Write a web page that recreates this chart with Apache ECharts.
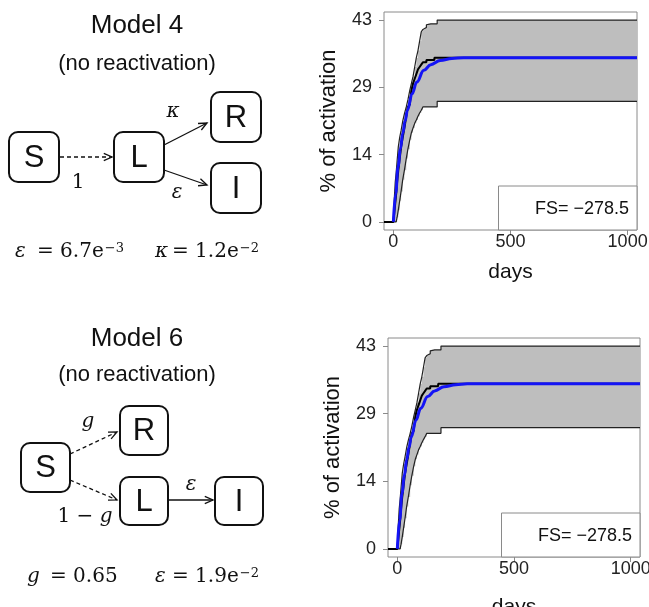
<!DOCTYPE html>
<html>
<head>
<meta charset="utf-8">
<script src="https://cdn.jsdelivr.net/npm/echarts@6/dist/echarts.min.js"></script>
<style>
  html, body { margin: 0; padding: 0; background: #fff; }
  #chart { width: 649px; height: 607px; }
</style>
</head>
<body>
<div id="chart"></div>
<script>
// step curves (value holds from days[i] until days[i+1])
const days = [-40, 0, 4, 8, 12, 16, 21, 27, 33, 40, 47, 55, 62, 70, 77, 84, 91, 98, 105, 112, 119, 126, 134, 141, 148, 160, 175, 187, 1040]
const upper = [0, 0, 5, 8.5, 10.5, 13, 16, 18, 19.5, 21.5, 23, 24.5, 26, 28, 29.5, 31, 33, 35, 36.5, 38.5, 40.5, 41, 41.4, 42, 42.2, 42.2, 42.2, 43, 43]
const lower = [0, 0, 0, 0, 0, 1, 2.5, 4.5, 6.5, 9, 11, 13.5, 15.5, 17.5, 19, 20, 21, 21.7, 22.5, 23.2, 23.8, 24.5, 24.5, 24.5, 24.5, 24.5, 24.5, 25.7, 25.7]
const observed = [0, 0, 2, 4, 6, 8.5, 11, 13.5, 16, 18, 20, 22.5, 24.5, 25, 28, 29.5, 30.5, 31.5, 32.5, 33, 33.5, 34, 34, 34.5, 34.5, 34.5, 35, 35, 35]

// fitted model curve (blue)
const modelDays = [0, 10, 20, 30, 40, 50, 60, 80, 100, 130, 160, 200, 250, 300, 400, 1040]
const modelVals = [0, 6.1, 11.8, 15.5, 18.9, 21.5, 23.8, 27.3, 29.8, 32.3, 33.5, 34.4, 34.8, 35, 35, 35]

// ticks
const xTicks = [0, 500, 1000]
const yTicks = [0, 14.33, 28.67, 43]
const fsText = 'FS= \u2212278.5'

const chart = echarts.init(document.getElementById('chart'))

const grids = [
  {left: 384, top: 12, width: 253, height: 218},
  {left: 388, top: 338, width: 252, height: 219}
]
const xNameGap = [32, 40]
const yNameGap = [44, 44]

const pair = (xs, ys) => xs.map((x, k) => [x, ys[k]])

// grey band between lower and upper step curves
function bandItem(params, api) {
  const n = days.length
  const pts = []
  for (let k = 0; k < n; k++) {
    pts.push(api.coord([days[k], upper[k]]))
    if (k < n - 1) pts.push(api.coord([days[k + 1], upper[k]]))
  }
  pts.push(api.coord([days[n - 1], lower[n - 1]]))
  for (let k = n - 2; k >= 0; k--) {
    pts.push(api.coord([days[k + 1], lower[k]]))
    pts.push(api.coord([days[k], lower[k]]))
  }
  return {type: 'polygon', shape: {points: pts}, style: {fill: '#bebebe'}}
}

function seriesFor(i) {
  const base = {type: 'line', xAxisIndex: i, yAxisIndex: i, symbol: 'none', silent: true, animation: false}
  return [
    {type: 'custom', xAxisIndex: i, yAxisIndex: i, silent: true, data: [[0, 0]], renderItem: bandItem},
    {...base, data: pair(days, upper), step: 'end', lineStyle: {color: '#222', width: 1.2}},
    {...base, data: pair(days, lower), step: 'end', lineStyle: {color: '#222', width: 1.2}},
    {...base, data: pair(days, observed), step: 'end', lineStyle: {color: '#000', width: 2}},
    {...base, data: pair(modelDays, modelVals), smooth: 0.4, smoothMonotone: 'x',
      lineStyle: {color: '#1414f5', width: 3}}
  ]
}

// diagram helpers
const sans = 'Liberation Sans'
const serif = 'DejaVu Serif'

function txt(x, y, text, size, opts) {
  opts = opts || {}
  return {
    type: 'text', x: x, y: y, silent: true,
    style: Object.assign({
      text: text, fontSize: size, fontFamily: opts.family || sans, fill: '#111',
      fontStyle: opts.italic ? 'italic' : 'normal',
      align: opts.align || 'center', verticalAlign: 'middle',
      textAlign: opts.align || 'center', textVerticalAlign: 'middle'
    }, opts.style || {})
  }
}

// "= 6.7e" with a raised "-3"
function sci(x, y, base, sup) {
  return txt(x, y, '{n|' + base + '}{s|' + sup + '}', 20, {family: serif, align: 'left', style: {rich: {
    n: {fontSize: 20, fontFamily: serif, fill: '#111'},
    s: {fontSize: 13, fontFamily: serif, fill: '#111', verticalAlign: 'top', padding: [0, 0, 0, 1]}}}})
}

function box(x, y, w, h, label) {
  return [
    {type: 'rect', silent: true, shape: {x: x, y: y, width: w, height: h, r: 9},
      style: {fill: '#fff', stroke: '#111', lineWidth: 2}},
    txt(x + w / 2, y + h / 2 + 1, label, 31)
  ]
}

function arrow(x1, y1, x2, y2, dashed) {
  const a = Math.atan2(y2 - y1, x2 - x1), h = 9, w = 0.42
  return [
    {type: 'line', silent: true, shape: {x1: x1, y1: y1, x2: x2, y2: y2},
      style: {stroke: '#111', lineWidth: 1.3, lineDash: dashed ? [4, 3] : null}},
    {type: 'polyline', silent: true,
      shape: {points: [[x2 - h * Math.cos(a - w), y2 - h * Math.sin(a - w)], [x2, y2],
                       [x2 - h * Math.cos(a + w), y2 - h * Math.sin(a + w)]]},
      style: {stroke: '#111', lineWidth: 1.3, fill: 'none'}}
  ]
}

const it = {family: serif, italic: true, align: 'left'}
const up = {family: serif, align: 'left'}

const diagram = [
  // Model 4
  txt(137, 26, 'Model 4', 26),
  txt(137, 64, '(no reactivation)', 22),
  ...box(9, 132, 50, 50, 'S'),
  ...box(114, 132, 50, 50, 'L'),
  ...box(211, 92, 50, 50, 'R'),
  ...box(211, 163, 50, 50, 'I'),
  ...arrow(60, 157, 112, 157, true),
  ...arrow(164, 145, 207, 123, false),
  ...arrow(164, 170, 207, 185, false),
  txt(78, 183, '1', 20, {family: serif}),
  txt(173, 112, '\u03ba', 20, {family: serif, italic: true}),
  txt(177, 193, '\u03b5', 20, {family: serif, italic: true}),
  txt(15, 252, '\u03b5', 20, it),
  sci(37, 252, '= 6.7e', '\u22123'),
  txt(155, 252, '\u03ba', 20, it),
  sci(172, 252, '= 1.2e', '\u22122'),

  // Model 6
  txt(137, 339, 'Model 6', 26),
  txt(137, 375, '(no reactivation)', 22),
  ...box(21, 443, 49, 49, 'S'),
  ...box(120, 406, 48, 49, 'R'),
  ...box(120, 477, 48, 48, 'L'),
  ...box(215, 477, 48, 48, 'I'),
  ...arrow(70, 454, 117, 432, true),
  ...arrow(70, 480, 117, 500, true),
  ...arrow(169, 500, 213, 500, false),
  txt(88, 422, 'g', 20, {family: serif, italic: true}),
  txt(85, 517, '{n|1 \u2212 }{i|g}', 20, {family: serif, style: {rich: {
    n: {fontSize: 20, fontFamily: serif, fill: '#111'},
    i: {fontSize: 20, fontFamily: serif, fontStyle: 'italic', fill: '#111'}}}}),
  txt(191, 485, '\u03b5', 20, {family: serif, italic: true}),
  txt(27, 577, 'g', 20, it),
  txt(50, 577, '= 0.65', 20, up),
  txt(155, 577, '\u03b5', 20, it),
  sci(172, 577, '= 1.9e', '\u22122')
]

// FS legend boxes
const legends = grids.map(g => [
  {type: 'rect', silent: true, z: 10,
    shape: {x: g.left + g.width - 138.5, y: g.top + g.height - 44, width: 138.5, height: 44},
    style: {fill: '#fff', stroke: '#8a8a8a', lineWidth: 1}},
  Object.assign(txt(g.left + g.width - 8, g.top + g.height - 21, fsText, 18, {align: 'right'}), {z: 11})
]).flat()

const option = {
  animation: false,
  grid: grids.map(g => ({...g, show: true, borderColor: '#8a8a8a', borderWidth: 1,
    backgroundColor: 'transparent', containLabel: false, outerBoundsMode: 'none'})),
  xAxis: grids.map((g, i) => ({
    type: 'value', gridIndex: i, min: -40, max: 1040,
    name: 'days', nameLocation: 'middle', nameGap: xNameGap[i], nameMoveOverlap: false,
    nameTextStyle: {fontSize: 21, color: '#111', fontFamily: sans},
    axisLine: {show: false, onZero: false}, splitLine: {show: false},
    axisTick: {show: true, customValues: xTicks, length: 5, lineStyle: {color: '#8a8a8a'}},
    axisLabel: {customValues: xTicks, formatter: v => String(v), fontSize: 18, color: '#222',
      margin: 3, fontFamily: sans}
  })),
  yAxis: grids.map((g, i) => ({
    type: 'value', gridIndex: i, min: -1.72, max: 44.72,
    name: '% of activation', nameLocation: 'middle', nameRotate: 90, nameGap: yNameGap[i],
    nameMoveOverlap: false,
    nameTextStyle: {fontSize: 22, color: '#111', fontFamily: sans},
    axisLine: {show: false, onZero: false}, splitLine: {show: false},
    axisTick: {show: true, customValues: yTicks, length: 5, lineStyle: {color: '#8a8a8a'}},
    axisLabel: {customValues: yTicks, formatter: v => String(Math.round(v)),
      fontSize: 18, color: '#222', margin: 12, fontFamily: sans}
  })),
  series: [...seriesFor(0), ...seriesFor(1)],
  graphic: {elements: [...diagram, ...legends]}
}

chart.setOption(option)
</script>
</body>
</html>
